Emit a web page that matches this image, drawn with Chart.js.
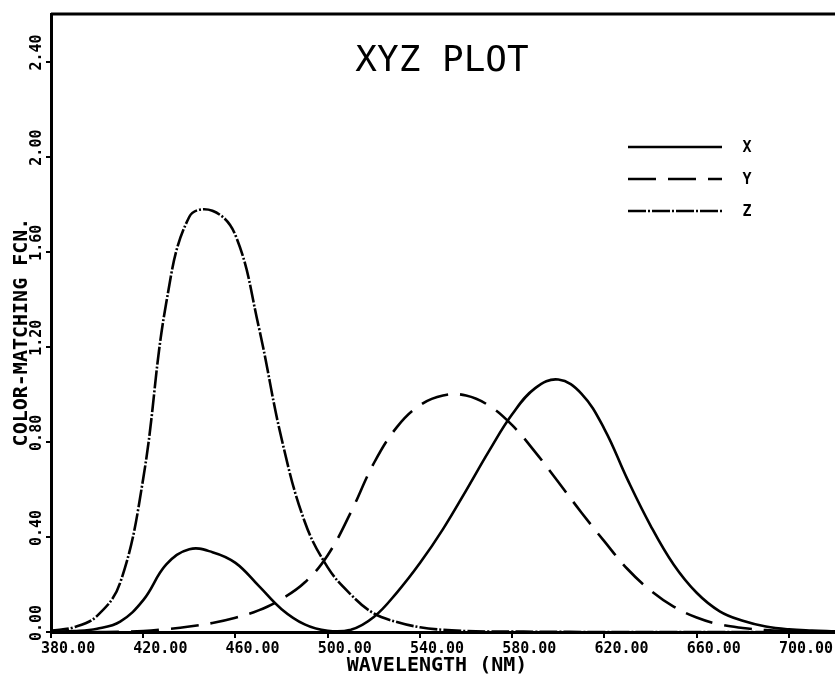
<!DOCTYPE html>
<html>
<head>
<meta charset="utf-8">
<script src="https://cdn.jsdelivr.net/npm/chart.js@4/dist/chart.umd.min.js"></script>
<style>
  html, body { margin:0; padding:0; background:#fff; }
  canvas { display:block; }
</style>
</head>
<body>
<canvas id="xyzChart" width="835" height="677"></canvas>
<script>
// wavelengths (nm) and color-matching values
const wavelengths = [380,390,400,410,420,430,440,450,460,470,480,490,500,510,520,530,540,550,560,570,580,590,600,610,620,630,640,650,660,670,680,690,700,710,720];
const xBar = [0.001,0.004,0.014,0.044,0.134,0.284,0.348,0.336,0.291,0.195,0.096,0.032,0.005,0.009,0.063,0.166,0.290,0.433,0.595,0.762,0.916,1.026,1.062,1.003,0.854,0.642,0.448,0.284,0.165,0.087,0.047,0.023,0.011,0.006,0.003];
const yBar = [0.000,0.000,0.000,0.001,0.004,0.012,0.023,0.038,0.060,0.091,0.139,0.208,0.323,0.503,0.710,0.862,0.954,0.995,0.995,0.952,0.870,0.757,0.631,0.503,0.381,0.265,0.175,0.107,0.061,0.032,0.017,0.008,0.004,0.002,0.001];
const zBar = [0.006,0.020,0.068,0.207,0.646,1.386,1.747,1.772,1.669,1.288,0.813,0.465,0.272,0.158,0.078,0.042,0.020,0.009,0.004,0.002,0.002,0.001,0.001,0.000,0.000,0.000,0.000,0.000,0.000,0.000,0.000,0.000,0.000,0.000,0.000];
const seriesNames = ['X','Y','Z'];
const xTickValues = [380,420,460,500,540,580,620,660,700];
const yTickValues = [0,0.4,0.8,1.2,1.6,2.0,2.4];
const titleText = 'XYZ PLOT';
const xTitle = 'WAVELENGTH (NM)';
const yTitle = 'COLOR-MATCHING FCN.';

const dashes = [[], [28,12], [18,2,2,2]];
const pts = arr => wavelengths.map((w,i) => ({x:w, y:arr[i]}));

const datasets = [xBar, yBar, zBar].map((arr,i) => ({
  label: seriesNames[i],
  data: pts(arr),
  borderColor: '#000',
  borderWidth: 2.6,
  borderDash: dashes[i],
  borderCapStyle: 'butt',
  pointRadius: 0,
  tension: 0.4,
  fill: false
}));

const MONO = '"DejaVu Sans Mono", monospace';

// axis labels, title, frame and legend drawn on top of the chart
const xyzDecor = {
  id: 'xyzDecor',
  afterDraw(chart) {
    const {ctx, chartArea:a, scales:{x, y}} = chart;
    ctx.save();
    ctx.fillStyle = '#000'; ctx.strokeStyle = '#000';

    // top frame line
    ctx.lineWidth = 3;
    ctx.beginPath(); ctx.moveTo(a.left, a.top); ctx.lineTo(a.right, a.top); ctx.stroke();

    // x tick labels
    ctx.font = 'bold 15px ' + MONO;
    ctx.textAlign = 'left'; ctx.textBaseline = 'middle';
    x.ticks.forEach(t => {
      const px = x.getPixelForValue(t.value);
      ctx.fillText(t.value.toFixed(2), px - 10, a.bottom + 17);
    });

    // y tick labels (rotated)
    y.ticks.forEach(t => {
      const py = y.getPixelForValue(t.value);
      ctx.save();
      ctx.translate(37, py - 9);
      ctx.rotate(-Math.PI/2);
      ctx.textAlign = 'center';
      ctx.fillText(t.value.toFixed(2), 0, 0);
      ctx.restore();
    });

    // axis titles
    ctx.font = 'bold 20px ' + MONO;
    ctx.textAlign = 'center';
    ctx.fillText(xTitle, 437, a.bottom + 34);
    ctx.save();
    ctx.translate(22, 332);
    ctx.rotate(-Math.PI/2);
    ctx.fillText(yTitle, 0, 0);
    ctx.restore();

    // plot title
    ctx.font = '36px ' + MONO;
    ctx.fillText(titleText, 442, 62);

    // legend
    const ly = [147, 179, 211];
    datasets.forEach((ds,i) => {
      ctx.lineWidth = 2.6;
      ctx.setLineDash(ds.borderDash);
      ctx.beginPath(); ctx.moveTo(628, ly[i]); ctx.lineTo(722, ly[i]); ctx.stroke();
      ctx.setLineDash([]);
      ctx.font = 'bold 15px ' + MONO;
      ctx.fillText(ds.label, 747, ly[i] + 1);
    });
    ctx.restore();
  }
};

new Chart(document.getElementById('xyzChart').getContext('2d'), {
  type: 'line',
  data: { datasets },
  plugins: [xyzDecor],
  options: {
    responsive: false,
    animation: false,
    layout: { padding: { top: 14, right: 0, left: 0, bottom: 0 } },
    plugins: { legend: { display:false }, tooltip: { enabled:false } },
    scales: {
      x: {
        type: 'linear', min: 380, max: 720,
        ticks: { display:false },
        afterBuildTicks: s => { s.ticks = xTickValues.map(v => ({value:v})); },
        grid: { drawOnChartArea:false, drawTicks:true, tickLength:6, color:'#000', lineWidth:2 },
        border: { color:'#000', width:3 },
        afterFit: s => { s.height = 45; }
      },
      y: {
        min: 0, max: 2.6,
        ticks: { display:false },
        afterBuildTicks: s => { s.ticks = yTickValues.map(v => ({value:v})); },
        grid: { drawOnChartArea:false, drawTicks:true, tickLength:5, color:'#000', lineWidth:2 },
        border: { color:'#000', width:3 },
        afterFit: s => { s.width = 51; }
      }
    }
  }
});
</script>
</body>
</html>
